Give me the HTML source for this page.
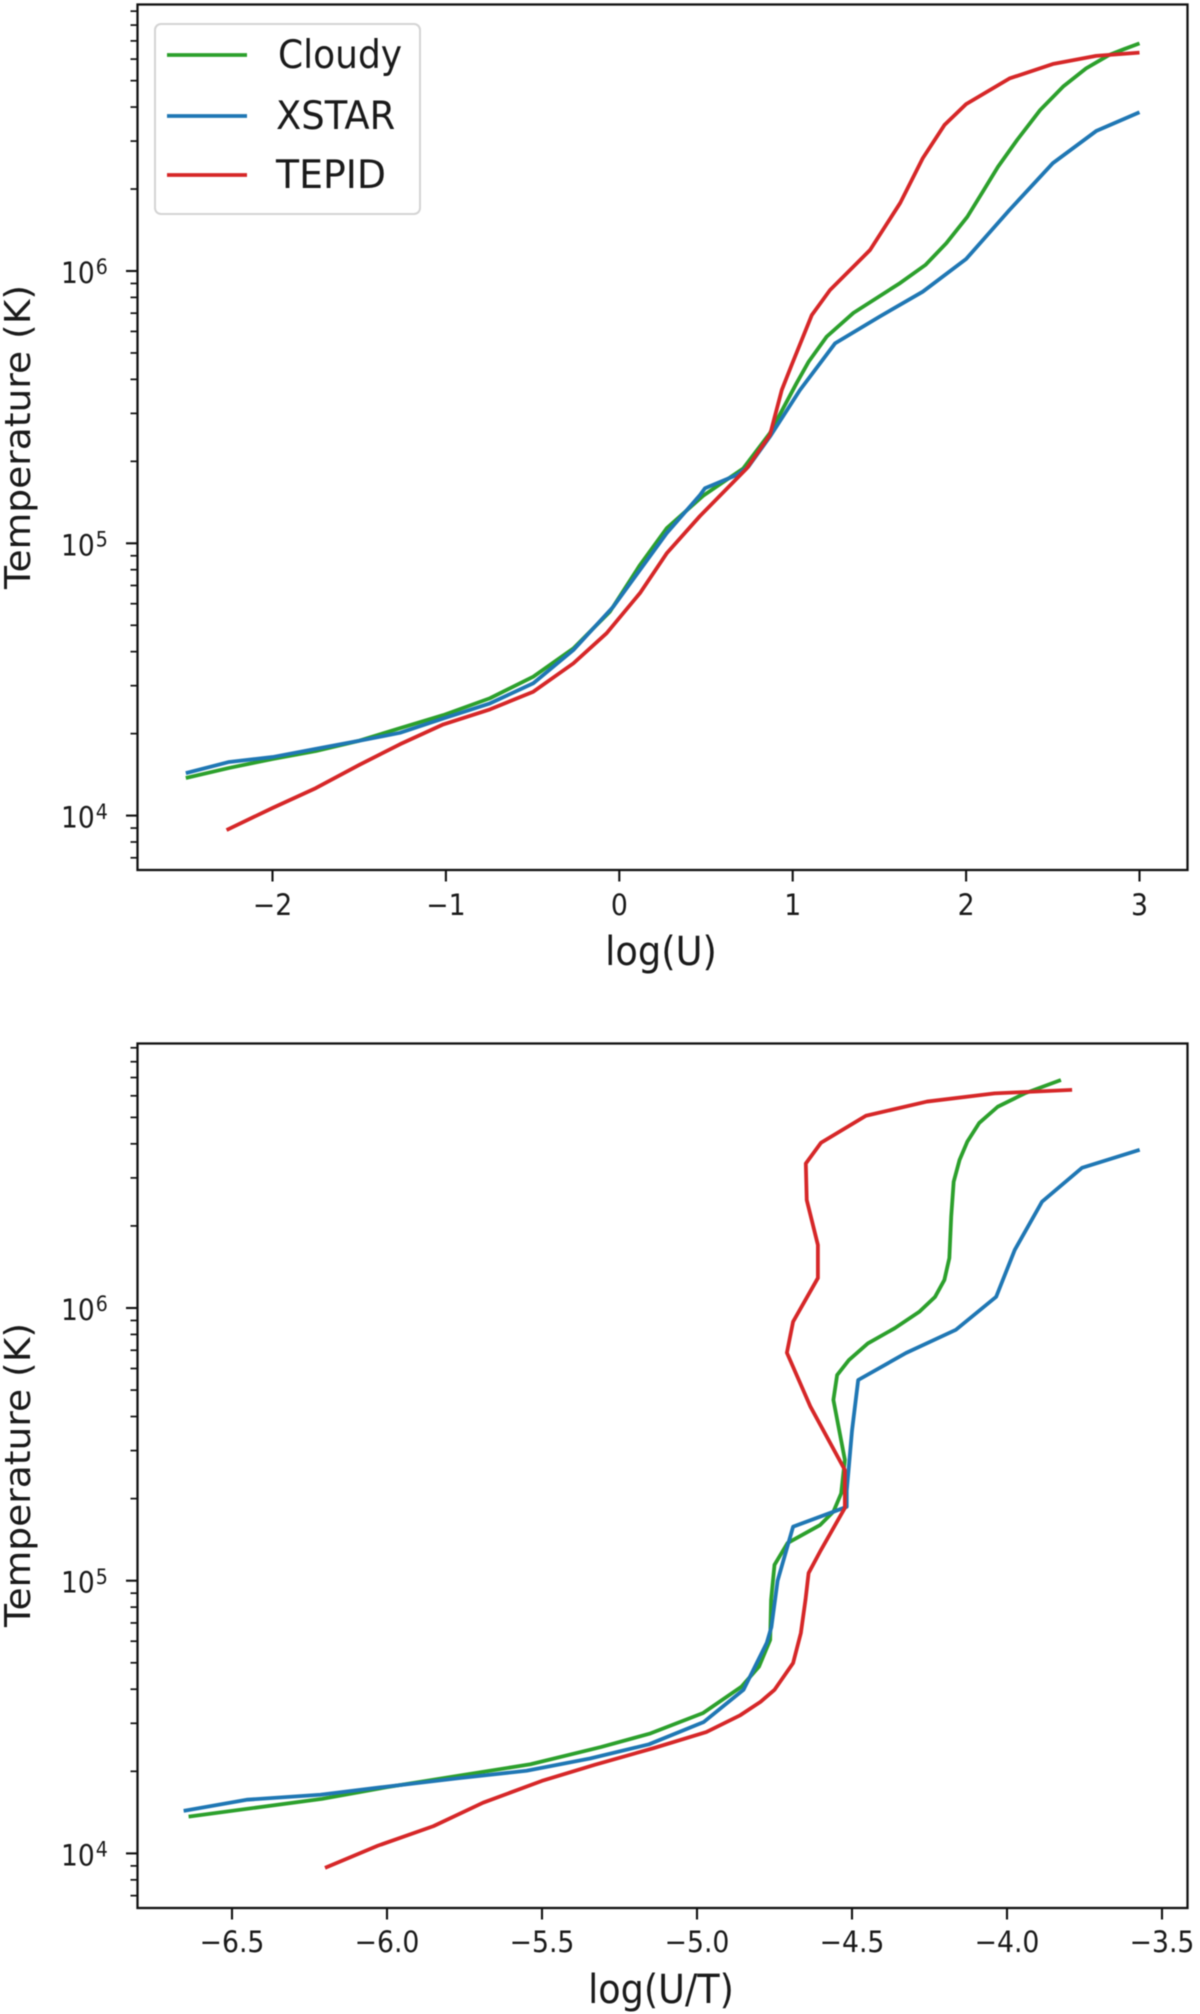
<!DOCTYPE html>
<html lang="en">
<head>
<meta charset="utf-8">
<title>Temperature versus ionization parameter</title>
<style>
html,body{margin:0;padding:0;background:#fff;width:1200px;height:2014px;overflow:hidden}
svg{display:block;filter:blur(.6px)}
text{font-family:"DejaVu Sans","Liberation Sans",sans-serif;fill:#1a1a1a}
</style>
</head>
<body>
<svg id="figure" xmlns="http://www.w3.org/2000/svg" width="1200" height="2014" viewBox="0 0 1200 2014">
  <rect x="0" y="0" width="1200" height="2014" fill="#fff"/>
  <g id="panel-top"></g>
  <g id="panel-bottom"></g>

  <text transform="translate(30,437) rotate(-90) scale(1.045,1)" font-size="36" text-anchor="middle">Temperature (K)</text>
  <text transform="translate(661,965) scale(1,1.1)" font-size="36.8" text-anchor="middle">log(U)</text>
  <text transform="translate(30,1475) rotate(-90) scale(1.045,1)" font-size="36" text-anchor="middle">Temperature (K)</text>
  <text transform="translate(661,2003) scale(1,1.1)" font-size="36.6" text-anchor="middle">log(U/T)</text>

  <g>
    <rect x="155" y="24" width="265" height="190" rx="6" ry="6" fill="#fff" stroke="#d4d4d4" stroke-width="2"/>
    <line x1="167" y1="55" x2="247" y2="55" stroke="#2ca02c" stroke-width="3.8"/>
    <text transform="translate(278,68) scale(1,1.1)" font-size="36">Cloudy</text>
    <line x1="167" y1="116" x2="247" y2="116" stroke="#1f77b4" stroke-width="3.8"/>
    <text transform="translate(276,129) scale(1.025,1.1)" font-size="36">XSTAR</text>
    <line x1="167" y1="175" x2="247" y2="175" stroke="#d62728" stroke-width="3.8"/>
    <text transform="translate(276,188) scale(1.05,1.1)" font-size="36">TEPID</text>
  </g>
</svg>

<script>
// Shared y-axis decades (log10 of temperature in K)
const yDecades = [4, 5, 6];
const yMinorMultipliers = [2, 3, 4, 5, 6, 7, 8, 9];

// Top panel: x axis ticks
const topXTicks = [-2, -1, 0, 1, 2, 3];
const topXTickLabels = ['\u22122', '\u22121', '0', '1', '2', '3'];

// Top panel: Cloudy
const topCloudyLogU = [-2.5,-2.25,-2,-1.75,-1.5,-1.265,-1.015,-0.746,-0.496,-0.265,-0.054,0.119,0.273,0.484,0.715,0.869,1.023,1.092,1.196,1.35,1.62,1.765,1.886,2.007,2.096,2.184,2.294,2.427,2.559,2.692,2.824,2.912,3];
const topCloudyLogT = [4.138,4.175,4.208,4.237,4.275,4.321,4.369,4.431,4.51,4.614,4.749,4.92,5.055,5.175,5.275,5.405,5.589,5.667,5.759,5.846,5.956,6.022,6.102,6.199,6.291,6.383,6.481,6.591,6.677,6.744,6.793,6.815,6.836];

// Top panel: XSTAR
const topXstarLogU = [-2.5,-2.25,-2,-1.75,-1.5,-1.265,-1.015,-0.746,-0.496,-0.265,-0.035,0.119,0.273,0.465,0.494,0.677,0.744,0.869,1.042,1.244,1.5,1.75,2,2.25,2.5,2.75,3];
const topXstarLogT = [4.156,4.197,4.215,4.245,4.275,4.304,4.357,4.412,4.486,4.608,4.767,4.902,5.037,5.177,5.202,5.251,5.281,5.392,5.563,5.734,5.832,5.924,6.044,6.224,6.396,6.514,6.583];

// Top panel: TEPID
const topTepidLogU = [-2.265,-2,-1.75,-1.5,-1.265,-1.015,-0.746,-0.496,-0.265,-0.073,0.119,0.273,0.465,0.735,0.869,0.937,0.994,1.11,1.215,1.446,1.62,1.75,1.875,2,2.25,2.5,2.75,3];
const topTepidLogT = [3.947,4.028,4.101,4.186,4.262,4.335,4.39,4.455,4.559,4.67,4.817,4.963,5.1,5.275,5.398,5.563,5.655,5.838,5.93,6.077,6.25,6.414,6.536,6.613,6.707,6.76,6.79,6.802];

// Bottom panel: x axis ticks
const bottomXTicks = [-6.5, -6, -5.5, -5, -4.5, -4, -3.5];
const bottomXTickLabels = ['\u22126.5', '\u22126.0', '\u22125.5', '\u22125.0', '\u22124.5', '\u22124.0', '\u22123.5'];

// Bottom panel: Cloudy
const bottomCloudyLogUT = [-6.64,-6.21,-6,-5.767,-5.537,-5.31,-5.15,-4.98,-4.856,-4.8,-4.764,-4.761,-4.75,-4.708,-4.603,-4.56,-4.535,-4.523,-4.56,-4.548,-4.51,-4.449,-4.362,-4.282,-4.232,-4.202,-4.186,-4.18,-4.172,-4.153,-4.128,-4.09,-4.03,-3.943,-3.826];
const bottomCloudyLogT = [4.135,4.2,4.243,4.285,4.327,4.39,4.44,4.515,4.612,4.685,4.783,4.93,5.058,5.138,5.204,5.253,5.32,5.443,5.663,5.754,5.809,5.87,5.926,5.987,6.041,6.103,6.183,6.335,6.463,6.543,6.61,6.678,6.738,6.787,6.836];

// Bottom panel: XSTAR
const bottomXstarLogUT = [-6.656,-6.45,-6.215,-6,-5.775,-5.55,-5.345,-5.155,-4.978,-4.85,-4.775,-4.76,-4.74,-4.69,-4.517,-4.517,-4.51,-4.5,-4.48,-4.326,-4.165,-4.035,-3.975,-3.887,-3.758,-3.572];
const bottomXstarLogT = [4.156,4.197,4.215,4.245,4.275,4.303,4.348,4.4,4.482,4.6,4.772,4.83,5.0,5.198,5.271,5.33,5.42,5.55,5.736,5.835,5.92,6.041,6.213,6.39,6.514,6.58];

// Bottom panel: TEPID
const bottomTepidLogUT = [-6.2,-6.03,-5.85,-5.69,-5.5,-5.33,-5.14,-4.97,-4.86,-4.795,-4.75,-4.69,-4.665,-4.65,-4.64,-4.6,-4.523,-4.523,-4.634,-4.71,-4.69,-4.61,-4.61,-4.646,-4.649,-4.6,-4.455,-4.258,-4.04,-3.79];
const bottomTepidLogT = [3.947,4.028,4.1,4.186,4.266,4.325,4.386,4.445,4.507,4.556,4.6,4.698,4.808,4.93,5.028,5.113,5.267,5.406,5.638,5.836,5.95,6.11,6.231,6.396,6.53,6.606,6.705,6.757,6.787,6.8];

const SVG_NS = 'http://www.w3.org/2000/svg';
const SPINE_COLOR = '#111';

function xTop(v) { return 619.3 + v * 173.4; }
function yTop(logT) { return 271 + (6 - logT) * 272.3; }
function xBottom(v) { return 232 + (v + 6.5) * 310; }
function yBottom(logT) { return 1308 + (6 - logT) * 272.7; }

function drawLine(parent, xs, ys, xScale, yScale, color, name) {
  const line = document.createElementNS(SVG_NS, 'polyline');
  
  
  line.setAttribute('points', xs.map(function (x, i) {
    return xScale(x).toFixed(2) + ',' + yScale(ys[i]).toFixed(2);
  }).join(' '));
  line.setAttribute('fill', 'none');
  line.setAttribute('stroke', color);
  line.setAttribute('stroke-width', '3.8');
  line.setAttribute('stroke-linejoin', 'round');
  parent.appendChild(line);
}

function drawTick(parent, x1, y1, x2, y2, width, name) {
  const tick = document.createElementNS(SVG_NS, 'line');
  
  
  tick.setAttribute('x1', x1);
  tick.setAttribute('y1', y1);
  tick.setAttribute('x2', x2);
  tick.setAttribute('y2', y2);
  tick.setAttribute('stroke', SPINE_COLOR);
  tick.setAttribute('stroke-width', width);
  parent.appendChild(tick);
}

function drawAxes(parent, box, xTicks, xLabels, xScale, yScale, labelY, prefix) {
  const frame = document.createElementNS(SVG_NS, 'rect');
  
  
  frame.setAttribute('x', box.left);
  frame.setAttribute('y', box.top);
  frame.setAttribute('width', box.right - box.left);
  frame.setAttribute('height', box.bottom - box.top);
  frame.setAttribute('fill', 'none');
  frame.setAttribute('stroke', SPINE_COLOR);
  frame.setAttribute('stroke-width', '2.3');
  parent.appendChild(frame);

  xTicks.forEach(function (v, i) {
    const x = xScale(v);
    drawTick(parent, x, box.bottom, x, box.bottom + 11.5, 2.1, prefix + '-x-tick');
    const label = document.createElementNS(SVG_NS, 'text');
    
    
    label.setAttribute('transform', 'translate(' + x + ',' + labelY + ') scale(1,1.1)');
    label.setAttribute('font-size', '26.7');
    label.setAttribute('text-anchor', 'middle');
    label.textContent = xLabels[i];
    parent.appendChild(label);
  });

  yDecades.forEach(function (d) {
    const y = yScale(d);
    drawTick(parent, box.left - 11.5, y, box.left, y, 2.1, prefix + '-y-major-tick');
    const label = document.createElementNS(SVG_NS, 'text');
    
    
    label.setAttribute('transform', 'translate(61,' + (y + 12) + ') scale(1,1.1)');
    label.setAttribute('font-size', '26.5');
    label.textContent = '10';
    const power = document.createElementNS(SVG_NS, 'tspan');
    
    
    power.setAttribute('font-size', '19');
    power.setAttribute('dy', '-8');
    power.setAttribute('dx', '1');
    power.textContent = String(d);
    label.appendChild(power);
    parent.appendChild(label);
  });

  [3, 4, 5, 6].forEach(function (d) {
    yMinorMultipliers.forEach(function (m) {
      const y = yScale(d + Math.log10(m));
      if (y > box.top && y < box.bottom) {
        drawTick(parent, box.left - 7, y, box.left, y, 1.7, prefix + '-y-minor-tick');
      }
    });
  });
}

const panelTop = document.getElementById('panel-top');
const panelBottom = document.getElementById('panel-bottom');

drawLine(panelTop, topCloudyLogU, topCloudyLogT, xTop, yTop, '#2ca02c', 'top-cloudy-line');
drawLine(panelTop, topXstarLogU, topXstarLogT, xTop, yTop, '#1f77b4', 'top-xstar-line');
drawLine(panelTop, topTepidLogU, topTepidLogT, xTop, yTop, '#d62728', 'top-tepid-line');
drawAxes(panelTop, {left: 137.5, right: 1187.5, top: 4.5, bottom: 870}, topXTicks, topXTickLabels, xTop, yTop, 915, 'top');

drawLine(panelBottom, bottomCloudyLogUT, bottomCloudyLogT, xBottom, yBottom, '#2ca02c', 'bottom-cloudy-line');
drawLine(panelBottom, bottomXstarLogUT, bottomXstarLogT, xBottom, yBottom, '#1f77b4', 'bottom-xstar-line');
drawLine(panelBottom, bottomTepidLogUT, bottomTepidLogT, xBottom, yBottom, '#d62728', 'bottom-tepid-line');
drawAxes(panelBottom, {left: 137.5, right: 1187.5, top: 1043.5, bottom: 1908}, bottomXTicks, bottomXTickLabels, xBottom, yBottom, 1952, 'bottom');
</script>
</body>
</html>
